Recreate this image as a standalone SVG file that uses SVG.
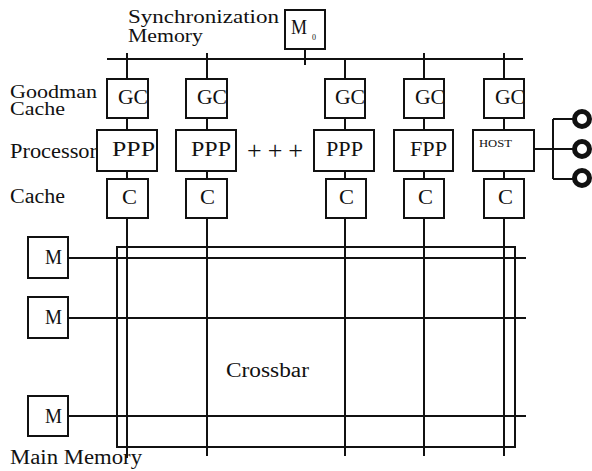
<svg xmlns="http://www.w3.org/2000/svg" width="592" height="471" viewBox="0 0 592 471">
<style>
.box{fill:#fff;stroke:#111;stroke-width:2}
.ln{stroke:#111;stroke-width:2;fill:none}
.t{font-family:"Liberation Serif","DejaVu Serif",serif;fill:#111}
.lbl{font-size:20px}
.bt{font-size:22px}
.circ{fill:none;stroke:#111;stroke-width:5}
</style>
<rect width="592" height="471" fill="#fff"/>
<g id="connectors">
  <line class="ln" x1="107" y1="59" x2="523" y2="59"/>
  <line class="ln" x1="305" y1="49" x2="305" y2="65"/>
  <line class="ln" x1="127" y1="53" x2="127" y2="79"/>
  <line class="ln" x1="207" y1="53" x2="207" y2="79"/>
  <line class="ln" x1="345" y1="59" x2="345" y2="79"/>
  <line class="ln" x1="424" y1="53" x2="424" y2="79"/>
  <line class="ln" x1="504" y1="53" x2="504" y2="79"/>
  <line class="ln" x1="127" y1="118" x2="127" y2="130"/>
  <line class="ln" x1="207" y1="118" x2="207" y2="130"/>
  <line class="ln" x1="345" y1="118" x2="345" y2="130"/>
  <line class="ln" x1="424" y1="118" x2="424" y2="130"/>
  <line class="ln" x1="504" y1="118" x2="504" y2="130"/>
  <line class="ln" x1="127" y1="171" x2="127" y2="179"/>
  <line class="ln" x1="207" y1="171" x2="207" y2="179"/>
  <line class="ln" x1="345" y1="171" x2="345" y2="179"/>
  <line class="ln" x1="424" y1="171" x2="424" y2="179"/>
  <line class="ln" x1="504" y1="171" x2="504" y2="179"/>
  <line class="ln" x1="534" y1="149" x2="553" y2="149"/>
  <line class="ln" x1="553" y1="119" x2="553" y2="179"/>
  <line class="ln" x1="553" y1="119" x2="575" y2="119"/>
  <line class="ln" x1="553" y1="149" x2="575" y2="149"/>
  <line class="ln" x1="553" y1="179" x2="575" y2="179"/>
</g>
<g id="crossbar">
  <rect class="ln" x="117" y="247" width="398" height="200"/>
  <line class="ln" x1="127" y1="218" x2="127" y2="458"/>
  <line class="ln" x1="207" y1="218" x2="207" y2="456"/>
  <line class="ln" x1="345" y1="218" x2="345" y2="456"/>
  <line class="ln" x1="424" y1="218" x2="424" y2="456"/>
  <line class="ln" x1="504" y1="218" x2="504" y2="456"/>
  <line class="ln" x1="68" y1="258" x2="526" y2="258"/>
  <line class="ln" x1="68" y1="318" x2="526" y2="318"/>
  <line class="ln" x1="68" y1="416" x2="526" y2="416"/>
  <text class="t lbl" x="226" y="377" textLength="83" lengthAdjust="spacingAndGlyphs">Crossbar</text>
</g>
<g id="labels">
  <text class="t" style="font-size:18px" x="128" y="23" textLength="151" lengthAdjust="spacingAndGlyphs">Synchronization</text>
  <text class="t" style="font-size:19px" x="128" y="42" textLength="75" lengthAdjust="spacingAndGlyphs">Memory</text>
  <text class="t" style="font-size:18px" x="10" y="98" textLength="87" lengthAdjust="spacingAndGlyphs">Goodman</text>
  <text class="t" style="font-size:18px" x="10" y="115" textLength="55" lengthAdjust="spacingAndGlyphs">Cache</text>
  <text class="t lbl" x="10" y="158" textLength="87" lengthAdjust="spacingAndGlyphs">Processor</text>
  <text class="t lbl" x="10" y="203" textLength="55" lengthAdjust="spacingAndGlyphs">Cache</text>
  <text class="t lbl" x="10" y="464" textLength="132" lengthAdjust="spacingAndGlyphs">Main Memory</text>
  <text class="t" style="font-size:26px" x="247" y="159" textLength="56" lengthAdjust="spacing">+ + +</text>
</g>
<g id="m0">
  <rect class="box" x="285" y="10" width="40" height="39"/>
  <text class="t bt" x="291" y="34" textLength="16" lengthAdjust="spacingAndGlyphs">M</text>
  <text class="t" style="font-size:8px" x="312" y="40">0</text>
</g>
<g id="gc1"><rect class="box" x="107" y="79" width="41" height="39"/><text class="t bt" x="118" y="104" textLength="30" lengthAdjust="spacingAndGlyphs">GC</text></g>
<g id="gc2"><rect class="box" x="186" y="79" width="41" height="39"/><text class="t bt" x="197" y="104" textLength="30" lengthAdjust="spacingAndGlyphs">GC</text></g>
<g id="gc3"><rect class="box" x="325" y="79" width="40" height="39"/><text class="t bt" x="335" y="104" textLength="30" lengthAdjust="spacingAndGlyphs">GC</text></g>
<g id="gc4"><rect class="box" x="404" y="79" width="40" height="39"/><text class="t bt" x="415" y="104" textLength="30" lengthAdjust="spacingAndGlyphs">GC</text></g>
<g id="gc5"><rect class="box" x="484" y="79" width="40" height="39"/><text class="t bt" x="495" y="104" textLength="30" lengthAdjust="spacingAndGlyphs">GC</text></g>
<g id="p1"><rect class="box" x="97" y="130" width="60" height="41"/><text class="t bt" x="112" y="156" textLength="43" lengthAdjust="spacingAndGlyphs">PPP</text></g>
<g id="p2"><rect class="box" x="176" y="130" width="60" height="41"/><text class="t bt" x="191" y="156" textLength="40" lengthAdjust="spacingAndGlyphs">PPP</text></g>
<g id="p3"><rect class="box" x="314" y="130" width="60" height="41"/><text class="t bt" x="326" y="156" textLength="37" lengthAdjust="spacingAndGlyphs">PPP</text></g>
<g id="p4"><rect class="box" x="394" y="130" width="59" height="41"/><text class="t bt" x="410" y="156" textLength="37" lengthAdjust="spacingAndGlyphs">FPP</text></g>
<g id="host"><rect class="box" x="473" y="130" width="61" height="41"/><text class="t" style="font-size:10px" x="479" y="147" textLength="33" lengthAdjust="spacingAndGlyphs">HOST</text></g>
<g id="c1"><rect class="box" x="107" y="179" width="41" height="39"/><text class="t bt" x="122" y="204" textLength="15" lengthAdjust="spacingAndGlyphs">C</text></g>
<g id="c2"><rect class="box" x="186" y="179" width="41" height="39"/><text class="t bt" x="200" y="204" textLength="15" lengthAdjust="spacingAndGlyphs">C</text></g>
<g id="c3"><rect class="box" x="326" y="179" width="40" height="39"/><text class="t bt" x="339" y="204" textLength="15" lengthAdjust="spacingAndGlyphs">C</text></g>
<g id="c4"><rect class="box" x="404" y="179" width="40" height="39"/><text class="t bt" x="418" y="204" textLength="15" lengthAdjust="spacingAndGlyphs">C</text></g>
<g id="c5"><rect class="box" x="484" y="179" width="40" height="39"/><text class="t bt" x="498" y="204" textLength="15" lengthAdjust="spacingAndGlyphs">C</text></g>
<g id="m1"><rect class="box" x="28" y="237" width="40" height="41"/><text class="t lbl" x="45" y="264" textLength="17" lengthAdjust="spacingAndGlyphs">M</text></g>
<g id="m2"><rect class="box" x="28" y="297" width="40" height="41"/><text class="t lbl" x="45" y="324" textLength="17" lengthAdjust="spacingAndGlyphs">M</text></g>
<g id="m3"><rect class="box" x="28" y="396" width="40" height="40"/><text class="t lbl" x="45" y="423" textLength="17" lengthAdjust="spacingAndGlyphs">M</text></g>
<g id="io1"><circle class="circ" cx="582" cy="119" r="7.5"/></g>
<g id="io2"><circle class="circ" cx="582" cy="149" r="7.5"/></g>
<g id="io3"><circle class="circ" cx="582" cy="178" r="7.5"/></g>
</svg>
